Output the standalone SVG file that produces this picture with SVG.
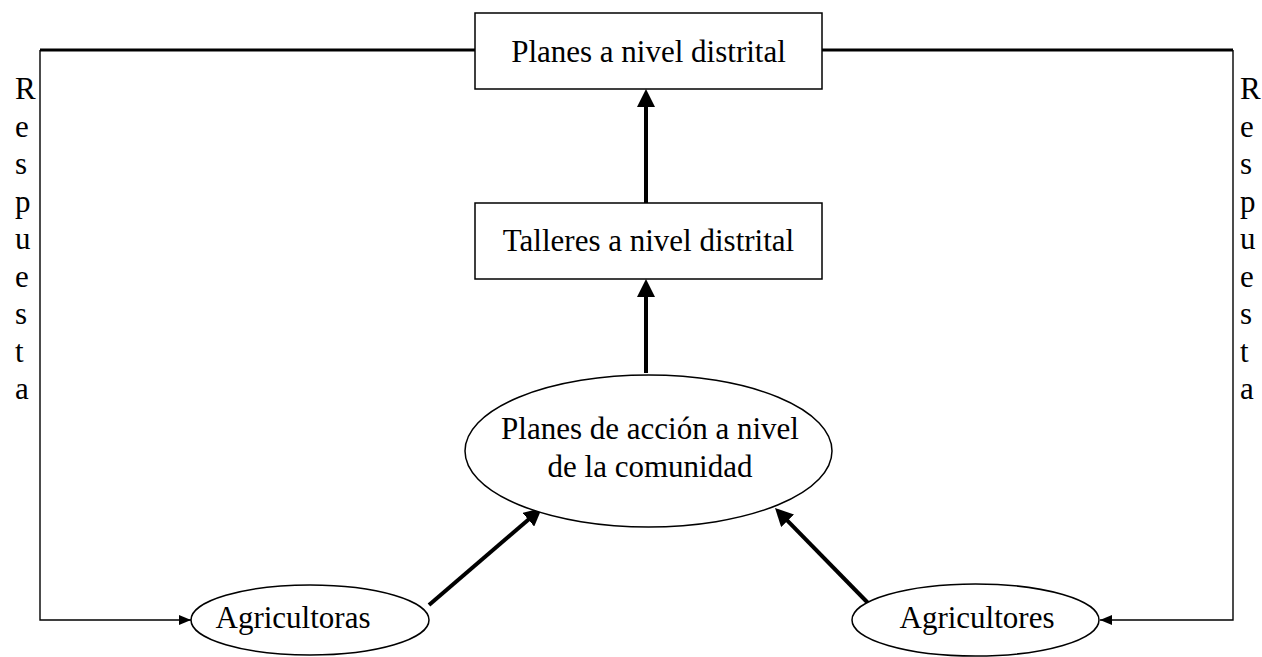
<svg xmlns="http://www.w3.org/2000/svg" width="1262" height="657" viewBox="0 0 1262 657">
<style>
text { font-family: "Liberation Serif", "Times New Roman", serif; font-size: 31px; fill: #000; }
.c { text-anchor: middle; }
.shape { fill: #fff; stroke: #000; stroke-width: 1.5; }
.thick { stroke: #000; stroke-width: 4; fill: none; }
.thin { stroke: #000; stroke-width: 1.4; fill: none; }
.top { stroke: #000; stroke-width: 3; fill: none; }
</style>
<defs>
<marker id="bigHead" markerUnits="userSpaceOnUse" viewBox="0 0 18 18" refX="8" refY="9" markerWidth="18" markerHeight="18" orient="auto">
<path d="M0,0 L18,9 L0,18 z" fill="#000"/>
</marker>
<marker id="smallHead" markerUnits="userSpaceOnUse" viewBox="0 0 12 10" refX="12" refY="5" markerWidth="12" markerHeight="10" orient="auto">
<path d="M0,0 L12,5 L0,10 z" fill="#000"/>
</marker>
</defs>
<rect width="1262" height="657" fill="#fff"/>
<g id="connectors">
<path class="top" d="M40,50 H475"/>
<path class="top" d="M822,50 H1233"/>
<path class="thin" d="M40,50 V620 H191" marker-end="url(#smallHead)"/>
<path class="thin" d="M1233,50 V620 H1100" marker-end="url(#smallHead)"/>
<line class="thick" x1="646" y1="203" x2="646" y2="99" marker-end="url(#bigHead)"/>
<line class="thick" x1="646" y1="373" x2="646" y2="289" marker-end="url(#bigHead)"/>
<line class="thick" x1="429" y1="605" x2="534.4" y2="514.5" marker-end="url(#bigHead)"/>
<line class="thick" x1="868" y1="603" x2="782" y2="515.1" marker-end="url(#bigHead)"/>
</g>
<g id="label-respuesta-left">
<text x="15" y="99">R</text>
<text x="15" y="136.5">e</text>
<text x="15" y="174">s</text>
<text x="15" y="211.5">p</text>
<text x="15" y="249">u</text>
<text x="15" y="286.5">e</text>
<text x="15" y="324">s</text>
<text x="15" y="361.5">t</text>
<text x="15" y="399">a</text>
</g>
<g id="label-respuesta-right">
<text x="1240" y="99">R</text>
<text x="1240" y="136.5">e</text>
<text x="1240" y="174">s</text>
<text x="1240" y="211.5">p</text>
<text x="1240" y="249">u</text>
<text x="1240" y="286.5">e</text>
<text x="1240" y="324">s</text>
<text x="1240" y="361.5">t</text>
<text x="1240" y="399">a</text>
</g>
<g id="planes-distrital">
<rect class="shape" x="475" y="13" width="347" height="76"/>
<text class="c" x="648.5" y="62">Planes a nivel distrital</text>
</g>
<g id="talleres-distrital">
<rect class="shape" x="475" y="203" width="347" height="76"/>
<text class="c" x="648.5" y="251">Talleres a nivel distrital</text>
</g>
<g id="planes-comunidad">
<ellipse class="shape" cx="648.5" cy="451" rx="183.5" ry="76"/>
<text class="c" x="650" y="439">Planes de acción a nivel</text>
<text class="c" x="650" y="477">de la comunidad</text>
</g>
<g id="agricultoras">
<ellipse class="shape" cx="310" cy="620" rx="119" ry="35"/>
<text class="c" x="293" y="628">Agricultoras</text>
</g>
<g id="agricultores">
<ellipse class="shape" cx="975.5" cy="620" rx="123.5" ry="36"/>
<text class="c" x="977" y="628">Agricultores</text>
</g>
</svg>
